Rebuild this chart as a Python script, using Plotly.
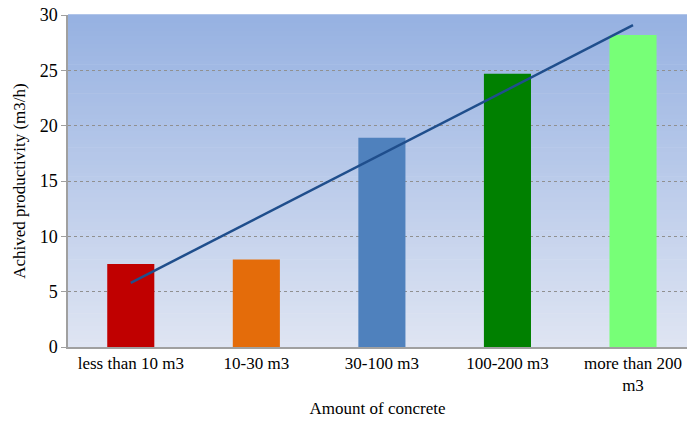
import numpy as np
import plotly.graph_objects as go

# Data
categories = ["less than 10 m3", "10-30 m3", "30-100 m3", "100-200 m3", "more than 200<br>m3"]
productivity = [7.5, 7.9, 18.9, 24.7, 28.2]
bar_colors = ["#c00000", "#e46c0a", "#4f81bd", "#008000", "#77ff77"]
y_ticks = [0, 5, 10, 15, 20, 25, 30]

# Linear trend through the bar values
x_idx = np.arange(len(productivity))
slope, intercept = np.polyfit(x_idx, productivity, 1)
trend = (slope * x_idx + intercept).tolist()

font_family = "Liberation Serif"

fig = go.Figure()
fig.add_trace(go.Bar(
    x=categories, y=productivity,
    marker=dict(color=bar_colors, line=dict(width=0)),
    showlegend=False,
))
fig.add_trace(go.Scatter(
    x=[categories[0], categories[-1]], y=[trend[0], trend[-1]],
    mode="lines", line=dict(color="#1f4e8c", width=2.5),
    showlegend=False,
))

# Vertical gradient background for the plotting area
n_bands = 80
top = np.array([151, 178, 226])
bottom = np.array([223, 229, 243])
shapes = []
for i in range(n_bands):
    t = i / (n_bands - 1)
    c = bottom + (top - bottom) * t
    shapes.append(dict(
        type="rect", xref="paper", yref="paper",
        x0=0, x1=1, y0=i / n_bands, y1=(i + 1) / n_bands + 0.002,
        fillcolor=f"rgb({int(c[0])},{int(c[1])},{int(c[2])})",
        line=dict(width=0), layer="below",
    ))

fig.update_layout(
    width=687, height=425,
    margin=dict(l=68, r=0, t=15, b=78),
    paper_bgcolor="white",
    plot_bgcolor="rgba(0,0,0,0)",
    bargap=0.625,
    shapes=shapes,
    font=dict(family=font_family, size=17, color="black"),
    xaxis=dict(
        type="category", range=[-0.5, 4.43],
        showline=True, linecolor="#a0a0a0", linewidth=1.5,
        showgrid=False, ticks="",
        tickfont=dict(family=font_family, size=17),
        title=dict(text="Amount of concrete", font=dict(family=font_family, size=17), standoff=8),
    ),
    yaxis=dict(
        range=[0, 30], tickvals=y_ticks,
        showline=True, linecolor="#a0a0a0", linewidth=1.5,
        ticks="outside", ticklen=5, tickcolor="#a0a0a0",
        showgrid=True, gridcolor="#909090", griddash="dot", gridwidth=1,
        zeroline=False,
        tickfont=dict(family=font_family, size=18),
        title=dict(text="Achived productivity (m3/h)", font=dict(family=font_family, size=17), standoff=10),
    ),
)

fig.write_html("out.html")
